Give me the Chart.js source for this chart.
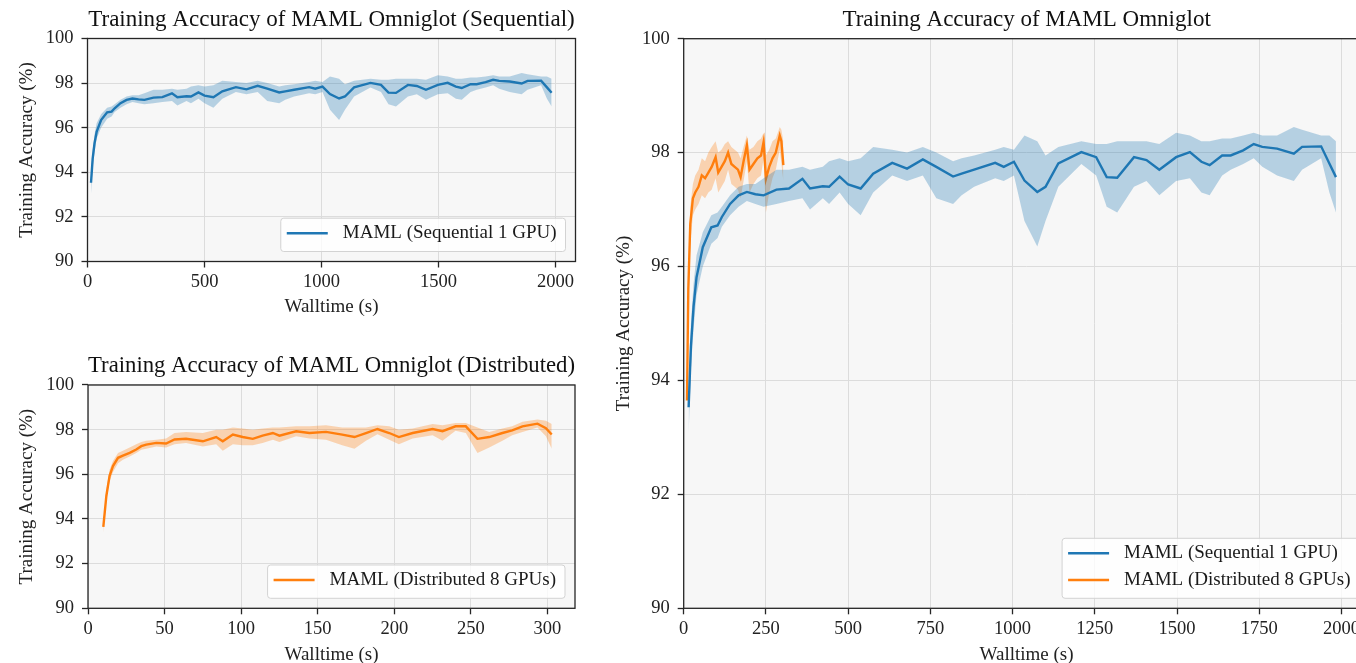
<!DOCTYPE html>
<html>
<head>
<meta charset="utf-8">
<script src="https://cdn.jsdelivr.net/npm/chart.js@4.4.0/dist/chart.umd.min.js"></script>
<style>
  html, body { margin: 0; padding: 0; background: #fff; overflow: hidden; width: 1356px; height: 663px; }
  canvas { position: absolute; }
  #seqChart { left: 0; top: 0; }
  #distChart { left: 0; top: 340px; }
  #bothChart { left: 600px; top: 0; }
</style>
</head>
<body>
<canvas id="seqChart" width="600" height="330"></canvas>
<canvas id="distChart" width="600" height="330"></canvas>
<canvas id="bothChart" width="800" height="680"></canvas>
<script>
// sequential run (1 GPU): walltime (s), mean accuracy and shaded band
var seqTime  = [15, 22, 30, 39, 58, 84, 103, 116, 141, 167, 192, 218, 243, 282, 320, 361, 384, 423, 442, 474, 500, 538, 576, 634, 679, 727, 768, 819, 845, 883, 947, 973, 1004, 1036, 1075, 1100, 1139, 1209, 1254, 1286, 1318, 1369, 1407, 1446, 1497, 1539, 1574, 1599, 1637, 1663, 1701, 1733, 1759, 1804, 1855, 1880, 1938, 1963, 1983];
var seqAcc   = [93.53, 94.6, 95.3, 95.81, 96.34, 96.69, 96.72, 96.87, 97.10, 97.25, 97.31, 97.27, 97.25, 97.35, 97.37, 97.54, 97.37, 97.41, 97.40, 97.58, 97.44, 97.37, 97.63, 97.82, 97.72, 97.88, 97.75, 97.58, 97.63, 97.70, 97.82, 97.75, 97.84, 97.51, 97.31, 97.40, 97.81, 98.01, 97.92, 97.57, 97.56, 97.92, 97.87, 97.70, 97.92, 98.01, 97.84, 97.78, 97.95, 97.95, 98.04, 98.15, 98.10, 98.07, 97.98, 98.10, 98.11, 97.81, 97.57];
var seqUpper = [93.85, 95.0, 95.7, 96.2, 96.6, 96.9, 96.95, 97.05, 97.25, 97.4, 97.45, 97.45, 97.55, 97.7, 97.7, 97.75, 97.7, 97.75, 97.85, 97.9, 97.85, 97.9, 98.1, 98.05, 98.0, 98.1, 98.0, 97.85, 97.9, 97.95, 98.05, 98.1, 98.05, 98.3, 98.2, 97.95, 98.1, 98.2, 98.15, 98.15, 98.2, 98.2, 98.2, 98.15, 98.35, 98.3, 98.2, 98.2, 98.25, 98.25, 98.3, 98.35, 98.3, 98.3, 98.45, 98.4, 98.3, 98.3, 98.2];
var seqLower = [93.05, 94.2, 94.9, 95.5, 96.0, 96.4, 96.5, 96.7, 96.9, 97.05, 97.15, 97.1, 97.05, 97.1, 97.15, 97.2, 97.0, 97.2, 97.1, 97.3, 97.1, 96.9, 97.3, 97.6, 97.5, 97.6, 97.2, 97.1, 97.25, 97.4, 97.55, 97.5, 97.6, 96.8, 96.35, 96.8, 97.4, 97.8, 97.6, 97.05, 96.95, 97.4, 97.5, 97.25, 97.5, 97.55, 97.3, 97.25, 97.6, 97.7, 97.8, 97.9, 97.75, 97.6, 97.5, 97.7, 97.9, 97.3, 96.95];

// distributed run (8 GPUs), as drawn in the lower left panel
var distTime  = [10, 12, 14.1, 16.3, 19.6, 22.8, 27.2, 31.5, 34.8, 38, 44.6, 51, 56.5, 64, 75, 83.7, 88, 94.6, 101, 107.6, 114, 120.7, 125, 135.9, 144.6, 155.4, 166, 174, 181.5, 189, 196.7, 203, 212, 225, 231.5, 240, 246.7, 254.3, 262, 270.6, 277, 283.7, 293.5, 299, 302.8];
var distAcc   = [93.65, 95.04, 95.93, 96.37, 96.74, 96.84, 96.96, 97.11, 97.26, 97.33, 97.41, 97.38, 97.56, 97.59, 97.48, 97.67, 97.48, 97.78, 97.67, 97.59, 97.73, 97.85, 97.73, 97.93, 97.85, 97.90, 97.78, 97.67, 97.85, 98.03, 97.85, 97.67, 97.85, 98.03, 97.93, 98.15, 98.15, 97.59, 97.67, 97.85, 97.97, 98.15, 98.27, 98.07, 97.78];
var distUpper = [93.9, 95.3, 96.2, 96.6, 96.95, 97.05, 97.2, 97.35, 97.45, 97.5, 97.55, 97.6, 97.85, 97.9, 97.85, 98.0, 98.0, 98.1, 98.05, 98.0, 98.05, 98.1, 98.1, 98.15, 98.15, 98.2, 98.1, 98.1, 98.1, 98.2, 98.15, 98.0, 98.05, 98.25, 98.2, 98.3, 98.3, 98.1, 97.9, 98.05, 98.15, 98.35, 98.45, 98.4, 98.25];
var distLower = [93.4, 94.8, 95.7, 96.1, 96.5, 96.65, 96.8, 96.95, 97.1, 97.15, 97.25, 97.2, 97.35, 97.4, 97.25, 97.35, 97.05, 97.35, 97.3, 97.3, 97.4, 97.55, 97.45, 97.7, 97.6, 97.55, 97.3, 97.15, 97.5, 97.8, 97.55, 97.35, 97.6, 97.75, 97.5, 97.95, 97.85, 96.95, 97.2, 97.5, 97.75, 97.9, 98.1, 97.7, 97.15];

// distributed run as drawn in the right-hand comparison panel
var overTime  = [10, 14, 20, 28, 35, 45, 55, 65, 75, 85, 97, 105, 115, 125, 135, 145, 155, 165, 173, 182, 192, 200, 212, 224, 235, 243, 250, 260, 270, 280, 292, 297, 303];
var overAcc   = [93.65, 95.6, 96.75, 97.2, 97.3, 97.4, 97.6, 97.55, 97.65, 97.75, 97.92, 97.65, 97.75, 97.85, 98.0, 97.8, 97.75, 97.7, 97.57, 97.85, 98.13, 97.7, 97.8, 97.9, 97.95, 98.19, 97.54, 97.75, 97.9, 98.0, 98.3, 98.2, 97.78];
var overUpper = [93.9, 96.0, 97.05, 97.45, 97.6, 97.7, 97.9, 97.85, 98.0, 98.1, 98.2, 98.0, 98.05, 98.15, 98.2, 98.1, 98.05, 98.0, 97.9, 98.1, 98.3, 98.05, 98.1, 98.2, 98.25, 98.35, 97.95, 98.05, 98.2, 98.25, 98.45, 98.4, 98.2];
var overLower = [93.4, 95.2, 96.4, 96.9, 97.0, 97.1, 97.25, 97.2, 97.3, 97.35, 97.55, 97.3, 97.4, 97.5, 97.7, 97.45, 97.4, 97.35, 97.2, 97.5, 97.85, 97.3, 97.45, 97.55, 97.6, 97.9, 96.95, 97.3, 97.55, 97.7, 98.05, 97.8, 97.5];

// tick labels
var yTicks       = [90, 92, 94, 96, 98, 100];
var seqXTicks    = [0, 500, 1000, 1500, 2000];
var distXTicks   = [0, 50, 100, 150, 200, 250, 300];
var bothXTicks   = [0, 250, 500, 750, 1000, 1250, 1500, 1750, 2000];

var SEQ_LABEL = "MAML (Sequential 1 GPU)";
var DIST_LABEL = "MAML (Distributed 8 GPUs)";
var BLUE = "#1f77b4", BLUE_BAND = "rgba(31,119,180,0.3)";
var ORANGE = "#ff7f0e", ORANGE_BAND = "rgba(255,127,14,0.3)";
var SERIF = "'Liberation Serif', 'Times New Roman', serif";

function pts(xs, ys) {
	return xs.map(function (x, i) { return { x: x, y: ys[i] }; });
}

function band(label, color, fillColor, xs, mean, up, lo) {
	return [
		{ data: pts(xs, lo), borderWidth: 0, pointRadius: 0, fill: false },
		{ data: pts(xs, up), borderWidth: 0, pointRadius: 0, fill: "-1", backgroundColor: fillColor },
		{ label: label, data: pts(xs, mean), borderColor: color, borderWidth: 2.4, pointRadius: 0, fill: false }
	];
}

// plot background, frame and the legend inside the lower right corner
var panelPlugin = {
	id: "panel",
	beforeDraw: function (chart) {
		var a = chart.chartArea, ctx = chart.ctx;
		ctx.save();
		ctx.fillStyle = "#f7f7f7";
		ctx.fillRect(a.left, a.top, a.right - a.left, a.bottom - a.top);
		ctx.restore();
	},
	afterDraw: function (chart) {
		var a = chart.chartArea, ctx = chart.ctx;
		ctx.save();
		ctx.strokeStyle = "#262626";
		ctx.lineWidth = 1.3;
		ctx.strokeRect(a.left, a.top, a.right - a.left, a.bottom - a.top);

		var items = chart.data.datasets.filter(function (d) { return d.label; });
		ctx.font = "19px " + SERIF;
		var tw = Math.max.apply(null, items.map(function (d) { return ctx.measureText(d.label).width; }));
		var w = 6 + 41 + 15 + tw + 9;
		var h = 15 + 26.7 * (items.length - 1) + 18.3;
		var x = a.right - 10 - w, y = a.bottom - 10 - h;
		ctx.beginPath();
		ctx.roundRect(x, y, w, h, 3);
		ctx.fillStyle = "rgba(255,255,255,0.8)";
		ctx.fill();
		ctx.strokeStyle = "#d3d3d3";
		ctx.lineWidth = 1;
		ctx.stroke();
		items.forEach(function (d, i) {
			var cy = y + 15 + i * 26.7;
			ctx.beginPath();
			ctx.moveTo(x + 6, cy);
			ctx.lineTo(x + 47, cy);
			ctx.strokeStyle = d.borderColor;
			ctx.lineWidth = 2.4;
			ctx.stroke();
			ctx.fillStyle = "#1a1a1a";
			ctx.textBaseline = "middle";
			ctx.fillText(d.label, x + 62, cy);
		});
		ctx.restore();
	}
};

function makeChart(id, title, datasets, xMax, xTicks, box) {
	var canvas = document.getElementById(id);
	return new Chart(canvas, {
		type: "line",
		data: { datasets: datasets },
		plugins: [panelPlugin],
		options: {
			responsive: false,
			animation: false,
			devicePixelRatio: 1,
			layout: { padding: { left: 0, top: 0, right: canvas.width - box.right, bottom: 0 } },
			plugins: {
				legend: { display: false },
				tooltip: { enabled: false },
				title: {
					display: true,
					text: title,
					fullSize: false,
					color: "#111",
					font: { family: SERIF, size: 23, weight: "normal" },
					padding: { top: box.titleTop, bottom: box.top - box.titleTop - 27.6 }
				}
			},
			scales: {
				x: {
					type: "linear",
					min: 0,
					max: xMax,
					afterBuildTicks: function (s) { s.ticks = xTicks.map(function (v) { return { value: v }; }); },
					afterFit: function (s) { s.height = canvas.height - box.bottom; },
					grid: { color: "#dcdcdc", lineWidth: 1, tickColor: "#262626", tickLength: 6, tickWidth: 1.3 },
					border: { display: false },
					ticks: { color: "#222", padding: 4, maxRotation: 0, font: { family: SERIF, size: 18.5 },
						callback: function (v) { return String(v); } },
					title: { display: true, text: "Walltime (s)", color: "#222", font: { family: SERIF, size: 19 }, padding: { top: 0, bottom: box.xTitlePad } }
				},
				y: {
					min: 90,
					max: 100,
					afterBuildTicks: function (s) { s.ticks = yTicks.map(function (v) { return { value: v }; }); },
					afterFit: function (s) { s.width = box.left; },
					grid: { color: "#dcdcdc", lineWidth: 1, tickColor: "#262626", tickLength: 6, tickWidth: 1.3 },
					border: { display: false },
					ticks: { color: "#222", padding: 8, font: { family: SERIF, size: 18.5 },
						callback: function (v) { return String(v); } },
					title: { display: true, text: "Training Accuracy (%)", color: "#222", font: { family: SERIF, size: 19 }, padding: { top: box.yTitlePad, bottom: 0 } }
				}
			}
		}
	});
}

makeChart("seqChart", "Training Accuracy of MAML Omniglot (Sequential)",
	band(SEQ_LABEL, BLUE, BLUE_BAND, seqTime, seqAcc, seqUpper, seqLower),
	2085, seqXTicks,
	{ left: 87.5, top: 38.5, right: 575.5, bottom: 261.5, titleTop: 6, xTitlePad: 12, yTitlePad: 16 });

makeChart("distChart", "Training Accuracy of MAML Omniglot (Distributed)",
	band(DIST_LABEL, ORANGE, ORANGE_BAND, distTime, distAcc, distUpper, distLower),
	318, distXTicks,
	{ left: 88, top: 45, right: 575, bottom: 268.3, titleTop: 12.2, xTitlePad: 4, yTitlePad: 16 });

makeChart("bothChart", "Training Accuracy of MAML Omniglot",
	band(SEQ_LABEL, BLUE, BLUE_BAND, seqTime, seqAcc, seqUpper, seqLower)
		.concat(band(DIST_LABEL, ORANGE, ORANGE_BAND, overTime, overAcc, overUpper, overLower)),
	2085, bothXTicks,
	{ left: 83.7, top: 38.7, right: 769.5, bottom: 608.3, titleTop: 6, xTitlePad: 14, yTitlePad: 12.5 });
</script>
</body>
</html>
